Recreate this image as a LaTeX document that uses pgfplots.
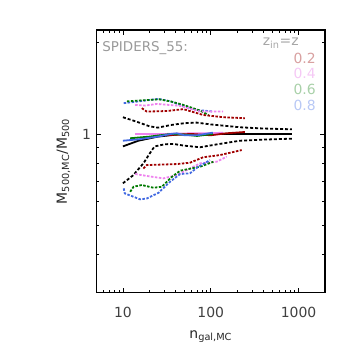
\documentclass[border=0pt]{standalone}
\usepackage{amsmath}
\usepackage{pgfplots}
\pgfplotsset{compat=1.18}
\usepackage{fontspec}
\setmainfont{DejaVu Sans}
\definecolor{cred}{HTML}{A00000}
\definecolor{cpink}{HTML}{EE82EE}
\definecolor{cgreen}{HTML}{007A00}
\definecolor{cblue}{HTML}{4169E1}
\definecolor{fred}{HTML}{D8A0A0}
\definecolor{fpink}{HTML}{F5C8F5}
\definecolor{fgreen}{HTML}{A8D0A8}
\definecolor{fblue}{HTML}{B8C8F5}
\begin{document}
\begin{tikzpicture}
\path[use as bounding box] (-96.5bp,-61.3bp) rectangle (257.5bp,292.7bp);
\begin{axis}[
  scale only axis, width=228.5bp, height=262.7bp,
  xmode=log, ymode=log,
  xmin=5, xmax=2000, ymin=0.3, ymax=2.2,
  xtick={10,100,1000}, xticklabels={10,100,1000},
  minor xtick={6,7,8,9,20,30,40,50,60,70,80,90,200,300,400,500,600,700,800,900,2000},
  ytick={1}, yticklabels={1},
  minor ytick={0.4,0.5,0.6,0.7,0.8,0.9,2},
  tick align=inside, major tick length=5bp, minor tick length=3bp,
  tick style={black, line width=0.8pt},
  axis line style={line width=1.2pt},
  ticklabel style={font=\fontsize{14}{16}\selectfont, text=black!75},
  xticklabel style={yshift=-11bp},
  yticklabel style={xshift=-2bp},
  xlabel={n$_{\text{gal,MC}}$},
  xlabel style={font=\fontsize{14}{16}\selectfont, text=black!85, yshift=-6bp},
  ylabel={M$_{\text{500,MC}}$/M$_{\text{500}}$},
  ylabel style={font=\fontsize{14}{16}\selectfont, text=black!85, yshift=5bp},
  clip=false,
  every axis plot/.append style={line width=1.8pt},
]
% black solid
\addplot[black, solid] coordinates {(10,0.91) (15,0.95) (25,0.98) (40,0.995) (100,1.0) (840,1.0)};
% black dashed upper
\addplot[black, dash pattern=on 3pt off 2pt] coordinates {(10,1.135) (14,1.10) (20,1.06) (25,1.049) (35,1.07) (50,1.085) (69,1.09) (100,1.075) (215,1.052) (400,1.042) (840,1.036)};
% black dashed lower
\addplot[black, dash pattern=on 3pt off 2pt] coordinates {(10,0.688) (13,0.73) (17.1,0.80) (21.4,0.885) (23,0.91) (30,0.925) (37.6,0.927) (50,0.915) (75.5,0.904) (120,0.925) (215,0.95) (400,0.958) (840,0.965)};
% colored solid near 1
\addplot[cpink, solid] coordinates {(13.8,1.0) (30,1.0) (60,1.005) (100,1.005) (138,1.01)};
\addplot[cred, solid] coordinates {(30,0.99) (60,1.0) (100,0.99) (150,1.005) (245,1.015)};
\addplot[cgreen, solid] coordinates {(12.1,0.968) (20,0.98) (35,1.0) (50,0.995) (70,0.985) (106,1.0)};
\addplot[cblue, solid] coordinates {(10,0.95) (15,0.96) (25,0.98) (35,1.0) (41,1.005) (50,0.99) (70,0.99) (106,1.01)};
% upper dashed colored
\addplot[cblue, dash pattern=on 2.5pt off 1.5pt] coordinates {(10.2,1.263) (15,1.28) (25.4,1.305) (35,1.28) (44.8,1.246) (69,1.20) (107,1.185)};
\addplot[cgreen, dash pattern=on 2.5pt off 1.5pt] coordinates {(11.1,1.28) (16,1.29) (26,1.30) (35,1.28) (49,1.246) (75.5,1.194) (94,1.155)};
\addplot[cpink, dash pattern=on 2.5pt off 1.5pt] coordinates {(13.8,1.246) (18,1.24) (24.3,1.256) (44.8,1.237) (75.5,1.185) (138,1.185)};
\addplot[cred, dash pattern=on 2.5pt off 1.5pt] coordinates {(16.4,1.216) (18.7,1.185) (31.6,1.19) (48.8,1.207) (82,1.155) (140,1.135) (245,1.127)};
% lower dashed colored
\addplot[cred, dash pattern=on 2.5pt off 1.5pt] coordinates {(17.1,0.77) (18.7,0.79) (41,0.796) (58,0.804) (82,0.838) (127,0.852) (225,0.885)};
\addplot[cpink, dash pattern=on 2.5pt off 1.5pt] coordinates {(13.8,0.738) (20,0.725) (29,0.714) (41,0.732) (58,0.77) (75.5,0.80) (117,0.81) (152,0.842)};
\addplot[cgreen, dash pattern=on 2.5pt off 1.5pt] coordinates {(12.1,0.645) (13.2,0.67) (16.4,0.679) (22.3,0.665) (27.7,0.67) (36,0.722) (45,0.757) (75.5,0.78) (107,0.81)};
\addplot[cblue, dash pattern=on 2.5pt off 1.5pt] coordinates {(10.2,0.662) (10.5,0.637) (13.2,0.621) (15.7,0.609) (18.7,0.613) (25.4,0.64) (34.4,0.696) (44.8,0.738) (58,0.742) (72,0.78) (98,0.82)};
% annotations
\node[anchor=west, text=black!40, font=\fontsize{13.5}{16}\selectfont] at (rel axis cs:0.01,0.93) {SPIDERS\_55:};
\node[anchor=east, text=black!35, font=\fontsize{14}{16}\selectfont] at (rel axis cs:0.9,0.95) {z$_{\text{in}}$=z};
\node[anchor=east, text=fred, font=\fontsize{14}{16}\selectfont] at (rel axis cs:0.975,0.893) {0.2};
\node[anchor=east, text=fpink, font=\fontsize{14}{16}\selectfont] at (rel axis cs:0.975,0.836) {0.4};
\node[anchor=east, text=fgreen, font=\fontsize{14}{16}\selectfont] at (rel axis cs:0.975,0.775) {0.6};
\node[anchor=east, text=fblue, font=\fontsize{14}{16}\selectfont] at (rel axis cs:0.975,0.714) {0.8};
\end{axis}
\end{tikzpicture}
\end{document}
